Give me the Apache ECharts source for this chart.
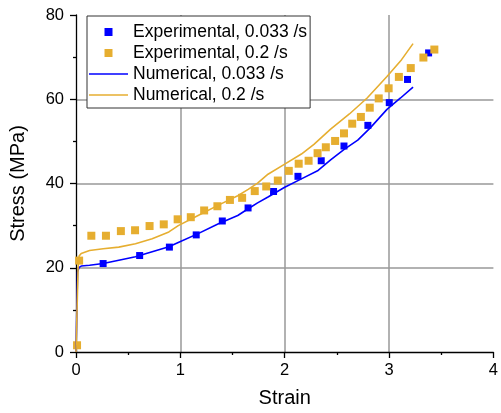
<!DOCTYPE html>
<html>
<head>
<meta charset="utf-8">
<script src="https://cdn.jsdelivr.net/npm/echarts@6/dist/echarts.min.js"></script>
<style>html,body{margin:0;padding:0;background:#fff;}#c{width:501px;height:413px;}</style>
</head>
<body>
<div id="c"></div>
<script>
var seriesNames = ['Experimental, 0.033 /s', 'Experimental, 0.2 /s', 'Numerical, 0.033 /s', 'Numerical, 0.2 /s'];
var xTicks = [0, 1, 2, 3, 4];
var yTicks = [0, 20, 40, 60, 80];

var expSlowStrain = [0.26, 0.61, 0.895, 1.152, 1.402, 1.649, 1.893, 2.127, 2.350, 2.568, 2.797, 3.002, 3.177, 3.379];
var expSlowStress = [21.0, 22.9, 24.9, 27.8, 31.1, 34.2, 38.1, 41.7, 45.4, 48.9, 53.8, 59.2, 64.7, 71.0];

var expFastStrain = [0.01, 0.03, 0.147, 0.287, 0.43, 0.566, 0.705, 0.841, 0.974, 1.10, 1.228, 1.355, 1.475, 1.592, 1.713, 1.823, 1.934, 2.039, 2.134, 2.229, 2.315, 2.394, 2.483, 2.568, 2.647, 2.73, 2.815, 2.901, 2.996, 3.094, 3.208, 3.329, 3.434];
var expFastStress = [1.6, 21.7, 27.6, 27.6, 28.7, 28.9, 29.9, 30.3, 31.5, 32.0, 33.6, 34.6, 36.1, 36.6, 38.2, 39.3, 40.7, 43.0, 44.7, 45.4, 47.2, 48.6, 50.1, 51.9, 54.2, 55.8, 58.0, 60.2, 62.6, 65.3, 67.4, 69.9, 71.8];

var numSlowStrain = [0, 0.008, 0.015, 0.03, 0.05, 0.13, 0.26, 0.41, 0.57, 0.73, 0.89, 0.98, 1.17, 1.36, 1.55, 1.65, 1.74, 1.84, 2.0, 2.16, 2.32, 2.44, 2.57, 2.70, 2.82, 2.98, 3.11, 3.23];
var numSlowStress = [0, 10, 19.0, 20.1, 20.4, 20.6, 21.0, 21.8, 22.6, 23.8, 25.0, 26.0, 28.1, 30.4, 32.4, 34.0, 35.4, 36.8, 39.1, 41.1, 43.1, 45.6, 48.1, 50.3, 53.2, 57.6, 60.3, 62.9];

var numFastStrain = [0, 0.01, 0.02, 0.03, 0.05, 0.13, 0.26, 0.41, 0.57, 0.73, 0.89, 0.98, 1.17, 1.36, 1.55, 1.65, 1.74, 1.84, 2.0, 2.16, 2.28, 2.44, 2.62, 2.79, 2.98, 3.12, 3.23];
var numFastStress = [0, 10, 20, 22.8, 23.4, 24.1, 24.5, 24.9, 25.7, 26.9, 28.5, 30.0, 32.4, 34.8, 37.1, 38.6, 40.1, 42.2, 44.6, 47.0, 49.3, 52.9, 56.5, 60.3, 65.4, 69.4, 73.2];

function pairs(xs, ys) { return xs.map(function (x, i) { return [x, ys[i]]; }); }

var BLUE = '#0000FF';
var ORANGE = '#E6AE30';
var FONT = "'Liberation Sans', Arial, sans-serif";

var chart = echarts.init(document.getElementById('c'));
chart.setOption({
  animation: false,
  backgroundColor: '#fff',
  textStyle: { fontFamily: FONT },
  grid: { left: 76, right: 4, top: 15, bottom: 59, containLabel: false },
  legend: {
    left: 87, top: 16, orient: 'vertical',
    backgroundColor: '#fff', borderColor: '#333', borderWidth: 1,
    padding: [7, 3, 4, 2],
    itemWidth: 39, itemHeight: 8, itemGap: 3,
    textStyle: { fontSize: 17.5, color: '#000', fontFamily: FONT, lineHeight: 17 },
    data: [
      { name: seriesNames[0], icon: 'path://M0,0h1v1h-1z', itemStyle: { color: BLUE, opacity: 1 } },
      { name: seriesNames[1], icon: 'path://M0,0h1v1h-1z', itemStyle: { color: ORANGE, opacity: 1 } },
      { name: seriesNames[2], icon: 'path://M0,0h39v1.6h-39z', itemStyle: { color: BLUE, opacity: 1 } },
      { name: seriesNames[3], icon: 'path://M0,0h39v1.6h-39z', itemStyle: { color: ORANGE, opacity: 1 } }
    ]
  },
  xAxis: {
    type: 'value', min: xTicks[0], max: xTicks[xTicks.length - 1], interval: 1,
    name: 'Strain', nameLocation: 'middle', nameGap: 36,
    nameTextStyle: { fontSize: 20, color: '#000', fontFamily: FONT },
    axisLine: { show: true, onZero: false, lineStyle: { color: '#000', width: 1.3 } },
    axisTick: { show: true, inside: false, length: 6, lineStyle: { color: '#000', width: 1.3 } },
    minorTick: { show: true, splitNumber: 2, length: 3, lineStyle: { color: '#000', width: 1.3 } },
    axisLabel: { fontSize: 16.5, color: '#000', margin: 10, fontFamily: FONT },
    splitLine: { show: true, showMinLine: false, showMaxLine: false, lineStyle: { color: '#999', width: 1.5 } }
  },
  yAxis: {
    type: 'value', min: yTicks[0], max: yTicks[yTicks.length - 1], interval: 20,
    name: 'Stress (MPa)', nameLocation: 'middle', nameGap: 48,
    nameTextStyle: { fontSize: 20, color: '#000', fontFamily: FONT },
    axisLine: { show: true, onZero: false, lineStyle: { color: '#000', width: 1.3 } },
    axisTick: { show: true, inside: false, length: 6, lineStyle: { color: '#000', width: 1.3 } },
    minorTick: { show: true, splitNumber: 2, length: 3, lineStyle: { color: '#000', width: 1.3 } },
    axisLabel: { fontSize: 16.5, color: '#000', margin: 12, fontFamily: FONT },
    splitLine: { show: true, showMinLine: false, showMaxLine: false, lineStyle: { color: '#999', width: 1.5 } }
  },
  series: [
    { name: seriesNames[0], type: 'scatter', symbol: 'rect', symbolSize: 7,
      itemStyle: { color: BLUE, opacity: 1 }, data: pairs(expSlowStrain, expSlowStress), z: 3 },
    { name: seriesNames[1], type: 'scatter', symbol: 'rect', symbolSize: 8,
      itemStyle: { color: ORANGE, opacity: 1 }, data: pairs(expFastStrain, expFastStress), z: 3 },
    { name: seriesNames[2], type: 'line', symbol: 'none', showSymbol: false,
      lineStyle: { color: BLUE, width: 1.6 }, itemStyle: { color: BLUE },
      data: pairs(numSlowStrain, numSlowStress), z: 4 },
    { name: seriesNames[3], type: 'line', symbol: 'none', showSymbol: false,
      lineStyle: { color: ORANGE, width: 1.6 }, itemStyle: { color: ORANGE },
      data: pairs(numFastStrain, numFastStress), z: 4 }
  ]
});
</script>
</body>
</html>
